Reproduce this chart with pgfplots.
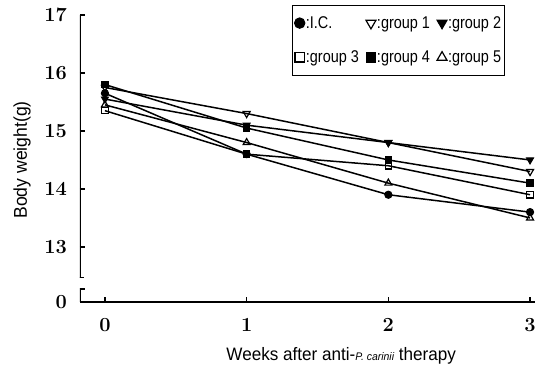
\documentclass[border=0pt]{standalone}
\usepackage{fontspec}
\usepackage{pgfplots}
\pgfplotsset{compat=1.18}
\newfontfamily\narrow[FakeStretch=0.95]{Liberation Sans}
\newfontfamily\legfont[FakeStretch=0.85]{Liberation Sans}

\begin{document}
\begin{tikzpicture}
\begin{axis}[
  scale only axis, width=455bp, height=287bp,
  xmin=-0.176, xmax=3.035, ymin=12.05, ymax=17,
  axis line style={draw=none},
  xtick={0,1,2,3}, ytick={13,14,15,16,17},
  extra y ticks={12.05}, extra y tick labels={0},
  extra y tick style={tick style={draw=none}},
  xtick pos=bottom, ytick pos=left, tick align=inside,
  major tick length=5bp,
  tick style={black, line width=1.4bp},
  /pgf/number format/assume math mode=true,
  ticklabel style={font=\fontsize{20bp}{20bp}\selectfont\bfseries, inner sep=0pt},
  yticklabel style={anchor=east, xshift=-13bp},
  xticklabel style={anchor=north, yshift=-16bp},
  xlabel={\narrow\fontsize{18bp}{18bp}\selectfont Weeks after anti-{\fontsize{11bp}{11bp}\selectfont\itshape P. carinii} therapy},
  xlabel style={at={(axis description cs:0.574,-0.188)}, anchor=center, inner sep=0pt},
  ylabel={\narrow\fontsize{18.5bp}{18.5bp}\selectfont Body weight(g)},
  ylabel style={at={(axis description cs:-0.127,0.495)}, anchor=center, rotate=0, inner sep=0pt},
  legend columns=3,
  legend cell align=left,
  legend image code/.code={\begin{scope}[every mark/.append style={scale=1.45}]\draw[#1] plot coordinates {(0bp,0bp)};\end{scope}},
  legend style={at={(rel axis cs:0.466,1.035)}, anchor=north west, draw=black, line width=0.9bp,
    font=\legfont\fontsize{17bp}{17bp}\selectfont, inner xsep=2bp, inner ysep=10bp, row sep=19bp,
    /tikz/every even column/.append style={column sep=6bp}, nodes={inner sep=1bp}},
  every axis plot/.append style={black, line width=1.5bp},
]
\addplot[mark=*, mark size=3.6bp, mark options={solid, line width=1bp}] coordinates {(0,15.65)(1,14.6)(2,13.9)(3,13.6)};
\addlegendentry{:I.C.}
\addplot[mark=triangle, mark size=4bp, mark options={solid, rotate=180, fill=white, line width=1.2bp}] coordinates {(0,15.75)(1,15.3)(2,14.8)(3,14.3)};
\addlegendentry{:group 1}
\addplot[mark=triangle*, mark size=4bp, mark options={solid, rotate=180, line width=1bp}] coordinates {(0,15.55)(1,15.1)(2,14.8)(3,14.5)};
\addlegendentry{:group 2}
\addplot[mark=square, mark size=3.2bp, mark options={solid, fill=white, line width=1.2bp}] coordinates {(0,15.35)(1,14.6)(2,14.4)(3,13.9)};
\addlegendentry{:group 3}
\addplot[mark=square*, mark size=3.2bp, mark options={solid, line width=1bp}] coordinates {(0,15.8)(1,15.05)(2,14.5)(3,14.1)};
\addlegendentry{:group 4}
\addplot[mark=triangle, mark size=4bp, mark options={solid, fill=white, line width=1.2bp}] coordinates {(0,15.45)(1,14.8)(2,14.1)(3,13.5)};
\addlegendentry{:group 5}
\draw[line width=1.8bp] (rel axis cs:0,0) -- (rel axis cs:1,0);
\draw[line width=1.8bp] (rel axis cs:0,1) -- (axis cs:-0.176,12.47);
\draw[line width=1.4bp] ([xshift=-4bp]axis cs:-0.176,12.47) -- ([xshift=4bp]axis cs:-0.176,12.47);
\draw[line width=1.8bp] ([xshift=5bp]axis cs:-0.176,12.28) -- (axis cs:-0.176,12.28) -- (rel axis cs:0,0);
\end{axis}
\pgfresetboundingbox
\path[use as bounding box] ([xshift=-80bp,yshift=-65bp]current axis.south west) rectangle ++(548bp,367bp);
\end{tikzpicture}
\end{document}
